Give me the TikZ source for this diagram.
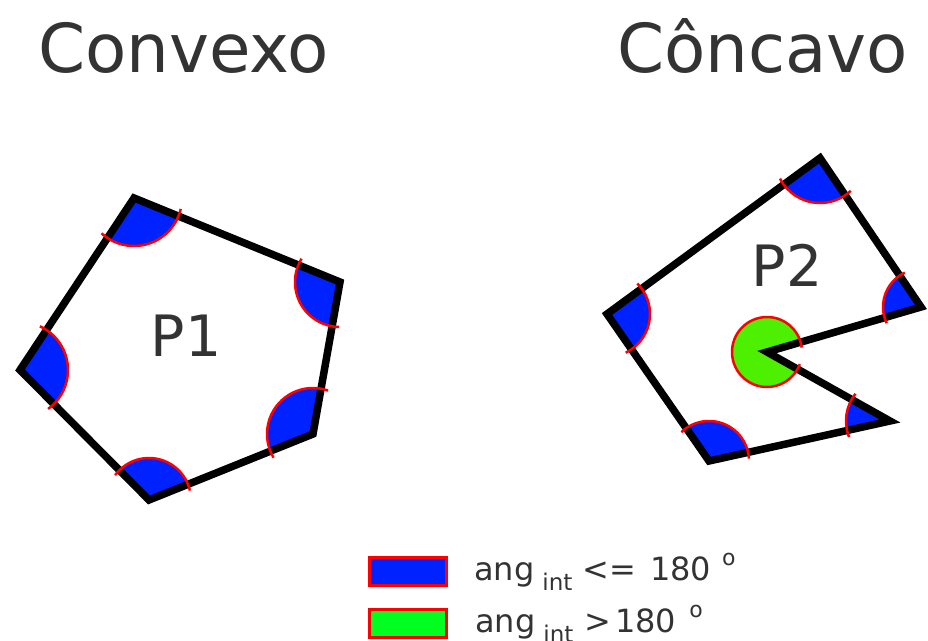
\documentclass[tikz,border=0pt]{standalone}
\usepackage{fontspec}
\setmainfont{DejaVu Sans}
\usetikzlibrary{calc,positioning}
\definecolor{angblue}{RGB}{0,34,255}
\definecolor{anggreen}{RGB}{76,240,0}
\definecolor{keygreen}{RGB}{0,255,30}
\definecolor{txtgray}{RGB}{51,51,51}
\pgfdeclarelayer{background}
\pgfsetlayers{background,main}
\tikzset{
  edge/.style={line width=7.5pt},
  rim/.style={draw=red, line width=2.5pt},
  keybox/.style={draw=red, line width=3pt, minimum width=77pt, minimum height=28pt, inner sep=0pt},
  title/.style={font=\fontsize{67.5}{70}\selectfont, text=txtgray, inner sep=0pt, anchor=base west},
  polyname/.style={font=\fontsize{57}{60}\selectfont, text=txtgray, inner sep=0pt, anchor=base},
  keytext/.style={font=\fontsize{32}{34}\selectfont, text=txtgray, inner sep=0pt, anchor=base west}
}
\newcommand{\lsub}[1]{\raisebox{-10pt}{\fontsize{23}{23}\selectfont #1}}
\newcommand{\lsup}[1]{\raisebox{15pt}{\fontsize{22}{22}\selectfont #1}}
% interior angle at #2, from #3 (previous) to #4 (next), radius #5
\newcommand{\angint}[5][angblue]{%
  \begin{pgfonlayer}{background}
    \fill[#1] let \p1=($(#3)-(#2)$), \p2=($(#4)-(#2)$),
      \n1={atan2(\y1,\x1)}, \n2={\n1+mod(atan2(\y2,\x2)-\n1+720,360)} in
      (#2) -- ($(#2)+(\n1:#5pt)$) arc[start angle=\n1, end angle=\n2, radius=#5pt] -- cycle;
  \end{pgfonlayer}
  \draw[rim] let \p1=($(#3)-(#2)$), \p2=($(#4)-(#2)$),
    \n1={atan2(\y1,\x1)}, \n2={\n1+mod(atan2(\y2,\x2)-\n1+720,360)} in
    ($(#2)+(\n1-9:#5pt)$) arc[start angle=\n1-9, end angle=\n2+9, radius=#5pt];
}

\begin{document}
\begin{tikzpicture}[x=1pt, y=-1pt]
  \useasboundingbox (0,0) rectangle (928,640);
  % Titles
  \node[title] (tconv) at (38,72) {Convexo};
  \node[title] (tconc) at (617,72) {Côncavo};
  % P1 (convex)
  \coordinate (a1) at (134,198);
  \coordinate (a2) at (340,282);
  \coordinate (a3) at (313,434);
  \coordinate (a4) at (149,500);
  \coordinate (a5) at (20,370);
  \draw[edge] (a1) -- (a2) -- (a3) -- (a4) -- (a5) -- cycle;
  \angint{a1}{a5}{a2}{48}
  \angint{a2}{a1}{a3}{45}
  \angint{a3}{a2}{a4}{46}
  \angint{a4}{a3}{a5}{42}
  \angint{a5}{a4}{a1}{48}
  \node[polyname] (p1) at (186,356) {P1};
  % P2 (concave)
  \coordinate (b1) at (820,158);
  \coordinate (b2) at (921,307);
  \coordinate (b3) at (767,352);
  \coordinate (b4) at (890,421);
  \coordinate (b5) at (709,461);
  \coordinate (b6) at (607,314);
  \draw[edge] (b1) -- (b2) -- (b3) -- (b4) -- (b5) -- (b6) -- cycle;
  \angint{b1}{b6}{b2}{45}
  \angint{b2}{b1}{b3}{38}
  \angint[anggreen]{b3}{b2}{b4}{35}
  \angint{b4}{b3}{b5}{44}
  \angint{b5}{b4}{b6}{40}
  \angint{b6}{b5}{b1}{43}
  \node[polyname] (p2) at (787,286) {P2};
  % Legend
  \node[keybox, fill=angblue] (k1) at (408,571) {};
  \node[keybox, fill=keygreen] (k2) at (408,623) {};
  \node[keytext] (t1) at (474,580) {ang\hspace{8pt}\lsub{int}\hspace{10pt}<=\hspace{14pt}180\hspace{11pt}\lsup{o}};
  \node[keytext] (t2) at (475,632) {ang\hspace{8pt}\lsub{int}\hspace{11pt}>\hspace{4pt}180\hspace{13pt}\lsup{o}};
\end{tikzpicture}
\end{document}
